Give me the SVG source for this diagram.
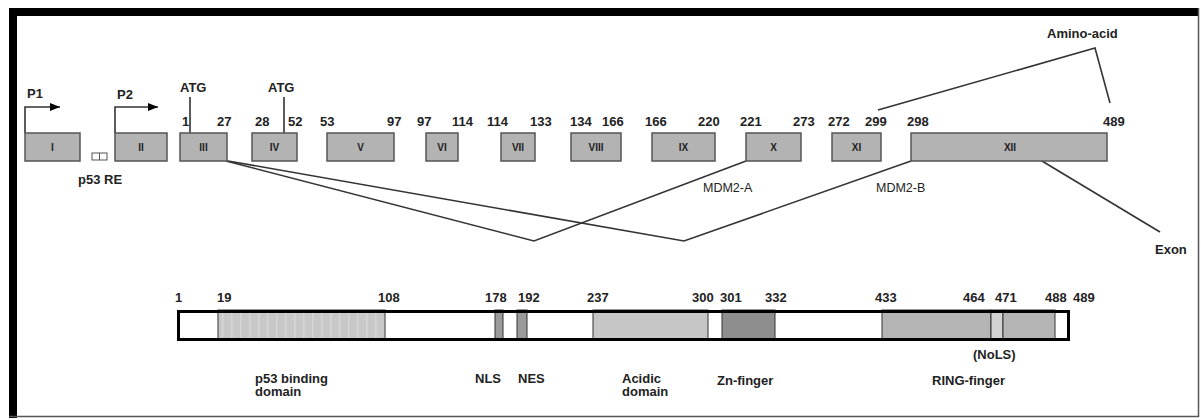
<svg xmlns="http://www.w3.org/2000/svg" width="1201" height="420" viewBox="0 0 1201 420">
<style>
text{font-family:"Liberation Sans",Arial,sans-serif;fill:#222}
.num{font-size:13px;font-weight:bold}
.lab{font-size:13px;font-weight:bold}
.rom{font-size:10px;font-weight:bold;text-anchor:middle;fill:#222}
.reg{font-size:12.5px}
.exon{fill:#b3b3b3;stroke:#555;stroke-width:1.5}
.ln{stroke:#333;stroke-width:1.6;fill:none}
.seg{stroke:#333;stroke-width:1}
</style>
<defs>
<marker id="ah" markerWidth="10" markerHeight="8" refX="10" refY="4" orient="auto" markerUnits="userSpaceOnUse">
<path d="M0,0 L10,4 L0,8 Z" fill="#000"/>
</marker>
<pattern id="tex" width="9" height="30" patternUnits="userSpaceOnUse">
<rect width="9" height="30" fill="#c8c8c8"/>
<rect x="6" width="1.5" height="30" fill="#d6d6d6"/>
</pattern>
</defs>
<rect x="0" y="0" width="1201" height="420" fill="#fff"/>
<g id="frame">
<rect x="9" y="8" width="1190" height="8" fill="#000"/>
<rect x="9" y="8" width="8" height="410" fill="#000"/>
<line x1="1198.5" y1="8" x2="1198.5" y2="417" stroke="#555" stroke-width="1.5"/>
<line x1="9" y1="416.5" x2="1199" y2="416.5" stroke="#555" stroke-width="1.5"/>
</g>
<g id="connectors">
<polyline class="ln" points="226,161 534,241 746,161"/>
<polyline class="ln" points="228,161 684,241 911,161"/>
<line class="ln" x1="1022" y1="149" x2="1160" y2="232"/>
<polyline class="ln" points="878,110 1095,48 1110,103"/>
<line class="ln" x1="190" y1="97" x2="190" y2="133"/>
<line class="ln" x1="284" y1="97" x2="284" y2="133"/>
<polyline class="ln" points="25,133 25,107 60,107" stroke="#000" marker-end="url(#ah)"/>
<polyline class="ln" points="115,133 115,107 158,107" stroke="#000" marker-end="url(#ah)"/>
</g>
<g id="promoters">
<text class="lab" x="27" y="98">P1</text>
<text class="lab" x="117" y="99">P2</text>
<text class="lab" x="180" y="92">ATG</text>
<text class="lab" x="268" y="92">ATG</text>
</g>
<g id="exons">
<g id="exon-I"><rect class="exon" x="25" y="133" width="55" height="28"/><text class="rom" x="52.5" y="151">I</text></g>
<g id="p53RE"><rect x="92" y="153" width="15" height="7" fill="#fff" stroke="#555" stroke-width="1"/><line x1="99.5" y1="153" x2="99.5" y2="160" stroke="#555" stroke-width="1"/><text class="lab" x="78" y="184" font-size="12">p53 RE</text></g>
<g id="exon-II"><rect class="exon" x="115" y="133" width="52" height="28"/><text class="rom" x="141" y="151">II</text></g>
<g id="exon-III"><rect class="exon" x="180" y="133" width="47" height="28"/><text class="rom" x="203.5" y="151">III</text></g>
<g id="exon-IV"><rect class="exon" x="252" y="133" width="45" height="28"/><text class="rom" x="274.5" y="151">IV</text></g>
<g id="exon-V"><rect class="exon" x="327" y="133" width="67" height="28"/><text class="rom" x="360.5" y="151">V</text></g>
<g id="exon-VI"><rect class="exon" x="426" y="133" width="32" height="28"/><text class="rom" x="442" y="151">VI</text></g>
<g id="exon-VII"><rect class="exon" x="501" y="133" width="34" height="28"/><text class="rom" x="518" y="151">VII</text></g>
<g id="exon-VIII"><rect class="exon" x="571" y="133" width="50" height="28"/><text class="rom" x="596" y="151">VIII</text></g>
<g id="exon-IX"><rect class="exon" x="652" y="133" width="63" height="28"/><text class="rom" x="683.5" y="151">IX</text></g>
<g id="exon-X"><rect class="exon" x="746" y="133" width="55" height="28"/><text class="rom" x="773.5" y="151">X</text></g>
<g id="exon-XI"><rect class="exon" x="832" y="133" width="49" height="28"/><text class="rom" x="856.5" y="151">XI</text></g>
<g id="exon-XII"><rect class="exon" x="911" y="133" width="196" height="28"/><text class="rom" x="1010" y="151">XII</text></g>
</g>
<g id="aa-numbers">
<text class="num" x="182" y="126">1</text>
<text class="num" x="217" y="126">27</text>
<text class="num" x="255" y="126">28</text>
<text class="num" x="288" y="126">52</text>
<text class="num" x="320" y="126">53</text>
<text class="num" x="387" y="126">97</text>
<text class="num" x="417" y="126">97</text>
<text class="num" x="452" y="126">114</text>
<text class="num" x="487" y="126">114</text>
<text class="num" x="530" y="126">133</text>
<text class="num" x="570" y="126">134</text>
<text class="num" x="602" y="126">166</text>
<text class="num" x="645" y="126">166</text>
<text class="num" x="698" y="126">220</text>
<text class="num" x="740" y="126">221</text>
<text class="num" x="793" y="126">273</text>
<text class="num" x="828" y="126">272</text>
<text class="num" x="865" y="126">299</text>
<text class="num" x="907" y="126">298</text>
<text class="num" x="1103" y="126">489</text>
</g>
<g id="annotations">
<text class="lab" x="1047" y="38">Amino-acid</text>
<text class="reg" x="703" y="192">MDM2-A</text>
<text class="reg" x="876" y="192">MDM2-B</text>
<text class="lab" x="1155" y="254">Exon</text>
</g>
<g id="protein">
<rect x="177" y="310" width="893" height="30" fill="#fff"/>
<rect class="seg" x="218" y="310" width="167" height="30" fill="url(#tex)"/>
<rect class="seg" x="495" y="310" width="8" height="30" fill="#9a9a9a"/>
<rect class="seg" x="517" y="310" width="10" height="30" fill="#9a9a9a"/>
<rect class="seg" x="593" y="310" width="115" height="30" fill="#c6c6c6"/>
<rect class="seg" x="722" y="310" width="53" height="30" fill="#8e8e8e"/>
<rect class="seg" x="882" y="310" width="109" height="30" fill="#b4b4b4"/>
<rect class="seg" x="991" y="310" width="12" height="30" fill="#d2d2d2"/>
<rect class="seg" x="1003" y="310" width="52" height="30" fill="#b4b4b4"/>
<rect x="178.5" y="311.5" width="890" height="28" fill="none" stroke="#000" stroke-width="3"/>
</g>
<g id="protein-numbers">
<text class="num" x="175" y="302">1</text>
<text class="num" x="217" y="302">19</text>
<text class="num" x="378" y="302">108</text>
<text class="num" x="485" y="302">178</text>
<text class="num" x="518" y="302">192</text>
<text class="num" x="587" y="302">237</text>
<text class="num" x="692" y="302">300</text>
<text class="num" x="720" y="302">301</text>
<text class="num" x="765" y="302">332</text>
<text class="num" x="875" y="302">433</text>
<text class="num" x="963" y="302">464</text>
<text class="num" x="995" y="302">471</text>
<text class="num" x="1045" y="302">488</text>
<text class="num" x="1073" y="302">489</text>
</g>
<g id="domains">
<text class="lab" x="255" y="383">p53 binding</text>
<text class="lab" x="255" y="396">domain</text>
<text class="lab" x="475" y="383">NLS</text>
<text class="lab" x="518" y="383">NES</text>
<text class="lab" x="622" y="383">Acidic</text>
<text class="lab" x="622" y="396">domain</text>
<text class="lab" x="717" y="385">Zn-finger</text>
<text class="lab" x="973" y="359">(NoLS)</text>
<text class="lab" x="932" y="385">RING-finger</text>
</g>
</svg>
